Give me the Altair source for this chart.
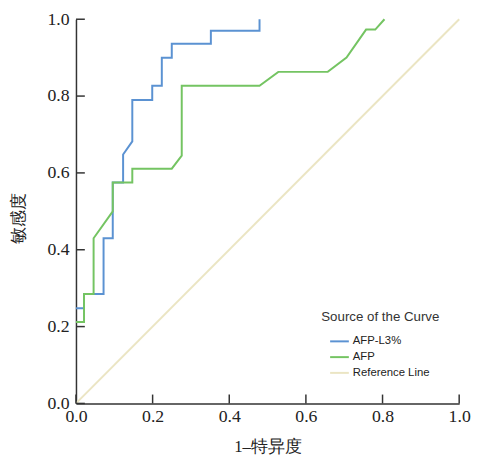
import altair as alt
import pandas as pd

# ROC curve points (1-specificity, sensitivity)
blue_x = [0, 0.021, 0.021, 0.072, 0.072, 0.096, 0.096, 0.123, 0.123, 0.147, 0.147,
          0.199, 0.199, 0.224, 0.224, 0.25, 0.25, 0.352, 0.352, 0.479, 0.479]
blue_y = [0.248, 0.248, 0.285, 0.285, 0.43, 0.43, 0.575, 0.575, 0.648, 0.682, 0.79,
          0.79, 0.827, 0.827, 0.9, 0.9, 0.936, 0.936, 0.97, 0.97, 1.0]

green_x = [0, 0.021, 0.021, 0.046, 0.046, 0.096, 0.096, 0.147, 0.147, 0.25, 0.276,
           0.276, 0.479, 0.528, 0.657, 0.706, 0.757, 0.781, 0.805]
green_y = [0.212, 0.212, 0.285, 0.285, 0.43, 0.5, 0.575, 0.575, 0.611, 0.611, 0.645,
           0.827, 0.827, 0.863, 0.863, 0.9, 0.973, 0.973, 1.0]

ref_x = [0, 1]
ref_y = [0, 1]

series_names = ["AFP-L3%", "AFP", "Reference Line"]
series_colors = ["#5b92d2", "#74c462", "#ebe5c3"]
series_widths = [2, 2, 1]
tick_values = [0.0, 0.2, 0.4, 0.6, 0.8, 1.0]

SERIF = "Liberation Serif"
SANS = "Liberation Sans"


def frame(xs, ys, name):
    return pd.DataFrame({"x": xs, "y": ys, "series": name, "i": list(range(len(xs)))})


df_blue = frame(blue_x, blue_y, series_names[0])
df_green = frame(green_x, green_y, series_names[1])
df_ref = frame(ref_x, ref_y, series_names[2])
df_ticks = pd.DataFrame({"v": tick_values})

W, H = 389, 390

xscale = alt.Scale(domain=[0, 1], nice=False, zero=True)
yscale = alt.Scale(domain=[0, 1], nice=False, zero=True)

color = alt.Color(
    "series:N",
    scale=alt.Scale(domain=series_names, range=series_colors),
    legend=alt.Legend(title="Source of the Curve"),
)
swidth = alt.StrokeWidth(
    "series:N",
    scale=alt.Scale(domain=series_names, range=series_widths),
    legend=alt.Legend(title="Source of the Curve"),
)

xaxis = alt.Axis(
    values=tick_values, format=".1f", title="1–特异度", ticks=False,
    labelPadding=4, titlePadding=14, labelFlush=False, grid=False,
)
yaxis = alt.Axis(
    values=tick_values, format=".1f", title="敏感度", ticks=False,
    labelPadding=7, grid=False, titleAngle=270, titleX=-58, titleY=202,
    titleAlign="center", titleBaseline="middle",
)


def line(df):
    return alt.Chart(df).mark_line(interpolate="linear").encode(
        x=alt.X("x:Q", scale=xscale, axis=xaxis),
        y=alt.Y("y:Q", scale=yscale, axis=yaxis),
        color=color,
        strokeWidth=swidth,
        order="i:Q",
    )


xticks = alt.Chart(df_ticks).mark_rule(color="#333333", strokeWidth=1.5).encode(
    x=alt.X("v:Q", scale=xscale), y=alt.value(H), y2=alt.value(H - 9)
)
yticks = alt.Chart(df_ticks).mark_rule(color="#333333", strokeWidth=1.5).encode(
    y=alt.Y("v:Q", scale=yscale), x=alt.value(0), x2=alt.value(9)
)

chart = (
    alt.layer(line(df_ref), line(df_blue), line(df_green), xticks, yticks)
    .properties(
        width=W,
        height=H,
        autosize=alt.AutoSizeParams(type="none"),
        padding={"left": 69, "top": 8, "right": 12, "bottom": 52},
    )
    .configure_view(stroke=None)
    .configure_axis(
        domainColor="#333333",
        domainWidth=1.5,
        labelFont=SERIF,
        labelFontSize=18,
        labelColor="#222222",
        titleFont=SERIF,
        titleFontSize=17,
        titleFontWeight="normal",
        titleColor="#222222",
    )
    .configure_legend(
        orient="none",
        legendX=249,
        legendY=295,
        padding=0,
        titleFont=SANS,
        titleFontSize=13.5,
        titleFontWeight="normal",
        titleColor="#333333",
        titlePadding=8,
        labelFont=SANS,
        labelFontSize=11.5,
        labelColor="#222222",
        symbolType="stroke",
        symbolSize=361,
        symbolOffset=8,
        labelOffset=3,
        rowPadding=-4,
    )
)

chart.save("out.html", embed_options={"renderer": "svg", "actions": False})
